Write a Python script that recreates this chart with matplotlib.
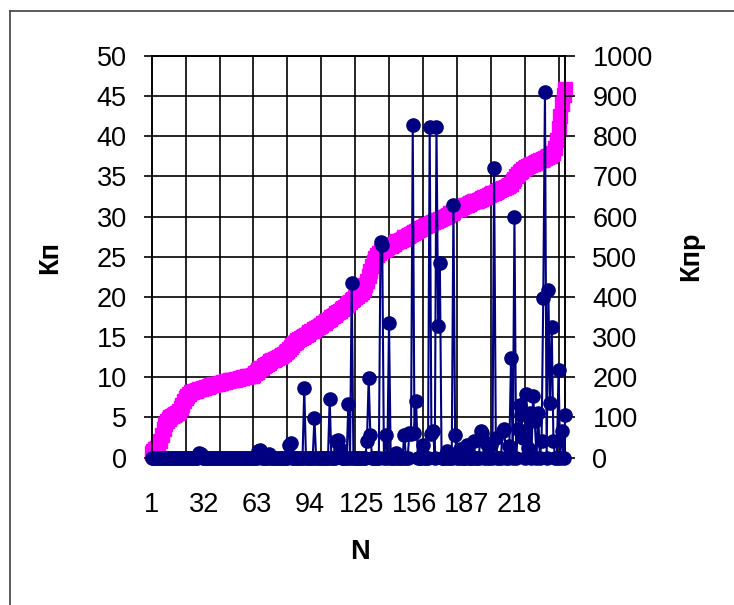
import matplotlib.pyplot as plt
from matplotlib.lines import Line2D

# Кп, sorted values (left axis)
kp = [0.6, 0.8, 1.0, 1.2,
      1.5, 2.0, 2.8, 3.6,
      4.2, 4.5, 4.8, 5.0, 5.2, 5.3, 5.4, 5.5,
      5.8, 6.2, 6.6, 7.0, 7.4, 7.7, 7.9, 8.1,
      8.2, 8.3, 8.3, 8.4, 8.5, 8.5, 8.6, 8.7, 8.8, 8.8, 8.9,
      9.0, 9.0, 9.1, 9.1, 9.2, 9.3, 9.3, 9.4, 9.4, 9.5, 9.5, 9.6, 9.6, 9.7, 9.7,
      9.8, 9.8, 9.9, 9.9, 10.0, 10.0, 10.1, 10.1, 10.2, 10.2, 10.3,
      10.5, 10.7, 10.9, 11.1, 11.2, 11.4, 11.5, 11.7, 11.8, 12.0,
      12.1, 12.2, 12.3, 12.4, 12.5, 12.6, 12.8, 12.9, 13.1, 13.3,
      13.5, 13.8, 14.0, 14.2, 14.4, 14.6, 14.8, 14.9, 15.0, 15.1, 15.3, 15.4, 15.6,
      15.7, 15.8, 16.0, 16.1, 16.2, 16.4, 16.5, 16.7, 16.8, 17.0, 17.1, 17.3, 17.5, 17.6, 17.8, 18.0,
      18.1, 18.3, 18.5, 18.6, 18.8, 19.0, 19.2, 19.4, 19.6, 19.8, 20.0, 20.1, 20.3, 20.4, 20.6,
      21.0, 21.5, 22.0, 22.6, 23.2, 23.8, 24.3, 24.8, 25.2, 25.5,
      25.7, 25.8, 25.9, 26.0, 26.2, 26.3, 26.4, 26.5, 26.6, 26.8, 26.9, 27.0, 27.1, 27.2, 27.4, 27.5,
      27.6, 27.7, 27.8, 28.0, 28.1, 28.2, 28.3, 28.4, 28.6, 28.7, 28.8, 28.9, 29.0, 29.1, 29.2,
      29.3, 29.4, 29.5, 29.6, 29.7, 29.8, 29.9, 30.0, 30.1, 30.2, 30.4, 30.5, 30.6, 30.8,
      30.9, 31.0, 31.1, 31.2, 31.3, 31.4, 31.5, 31.6, 31.7, 31.8,
      31.9, 32.0, 32.0, 32.1, 32.2, 32.3, 32.4, 32.5, 32.6, 32.7,
      32.8, 32.9, 33.0, 33.1, 33.2, 33.3, 33.4, 33.5, 33.6, 33.7, 33.8, 33.9,
      34.1, 34.4, 34.7, 35.0, 35.3, 35.5, 35.7, 35.9, 36.0, 36.2,
      36.3, 36.4, 36.5, 36.6, 36.7, 36.8, 36.9, 37.0, 37.1, 37.2, 37.3, 37.4, 37.5, 37.6, 37.8, 37.9,
      38.5, 39.5, 41.0, 42.5, 44.0, 45.2, 45.9]

# Кпр (right axis), 20 values per row
kpr = [0, 0, 0, 0, 0, 0, 0, 0, 0, 0, 0, 0, 0, 0, 0, 0, 0, 0, 0, 0,
       0, 0, 0, 0, 0, 0, 0, 0, 10, 8, 0, 0, 0, 0, 0, 0, 0, 0, 0, 0,
       0, 0, 0, 0, 0, 0, 0, 0, 0, 0, 0, 0, 0, 0, 0, 0, 0, 0, 0, 0,
       0, 0, 0, 16, 18, 0, 0, 0, 0, 8, 0, 0, 0, 0, 0, 0, 0, 0, 0, 0,
       0, 30, 36, 0, 0, 0, 0, 0, 0, 0, 172, 0, 0, 0, 0, 0, 98, 0, 0, 0,
       0, 0, 0, 0, 0, 145, 0, 0, 0, 42, 44, 20, 0, 0, 0, 0, 133, 0, 435, 0,
       0, 0, 0, 0, 0, 0, 0, 42, 197, 57, 0, 0, 0, 0, 0, 536, 530, 0, 57, 0,
       336, 0, 0, 0, 10, 0, 0, 0, 0, 57, 0, 0, 60, 58, 828, 62, 140, 0, 0, 0,
       30, 0, 0, 0, 824, 58, 66, 0, 822, 328, 484, 0, 0, 0, 15, 0, 0, 0, 630, 56,
       0, 0, 20, 0, 0, 0, 32, 0, 0, 0, 40, 0, 0, 0, 65, 62, 0, 36, 0, 0,
       30, 0, 720, 48, 0, 0, 0, 65, 70, 0, 0, 28, 249, 0, 600, 0, 70, 131, 106, 48,
       0, 159, 24, 110, 0, 152, 90, 0, 110, 0, 40, 398, 910, 0, 417, 135, 324, 40, 0, 0,
       217, 0, 65, 0, 106]

n = list(range(1, len(kp) + 1))
label_pos = [1, 32, 63, 94, 125, 156, 187, 218]
grid_pos = list(range(1, 246, 20))

plt.rcParams['font.family'] = ['Liberation Sans', 'DejaVu Sans']

W, H = 734, 605
fig = plt.figure(figsize=(W / 100, H / 100), dpi=100)
ax = fig.add_axes([151.7 / W, 1 - 457.5 / H, (565.3 - 151.7) / W, (457.5 - 56) / H])
ax2 = ax.twinx()

ax.plot(n, kp, color='#FF00FF', marker='s', markersize=10, lw=4, clip_on=False, zorder=3)
ax2.plot(n, kpr, color='#000080', marker='o', markersize=9.5, lw=1.5, clip_on=False, zorder=3)

ax.set_xlim(1, 245)
ax.set_ylim(0, 50)
ax2.set_ylim(0, 1000)
ax.set_yticks(range(0, 51, 5))
ax2.set_yticks(range(0, 1001, 100))
ax.set_xticks(label_pos)
ax.set_xticks(grid_pos, minor=True)

ax.grid(axis='y', color='black', lw=1.2)
ax.grid(axis='x', which='minor', color='black', lw=1.2)
ax.set_axisbelow(True)

ax.tick_params(axis='y', length=6, width=1.2, pad=12, labelsize=19.5)
ax.tick_params(axis='x', which='major', length=0, pad=25, labelsize=19.5)
ax.tick_params(axis='x', which='minor', length=5, width=1.2)
ax2.tick_params(axis='y', length=7, width=1.2, pad=12.5, labelsize=19.5)
for a in (ax, ax2):
    for s in a.spines.values():
        s.set_linewidth(1.2)

fig.text(50 / W, 1 - 257 / H, 'Кп', rotation=90, ha='center', va='center',
         fontsize=19.5, fontweight='bold')
fig.text(691 / W, 1 - 256 / H, 'Кпр', rotation=90, ha='center', va='center',
         fontsize=19.5, fontweight='bold')
fig.text(360 / W, 1 - 552 / H, 'N', ha='center', va='center',
         fontsize=19.5, fontweight='bold')

# chart area border (cut off at right and bottom)
fig.add_artist(Line2D([10 / W, 10 / W], [0, 1 - 11 / H], transform=fig.transFigure,
                      color='#404040', lw=1.2))
fig.add_artist(Line2D([10 / W, 1], [1 - 11 / H, 1 - 11 / H], transform=fig.transFigure,
                      color='#404040', lw=1.2))

fig.savefig('out.png', dpi=100)
